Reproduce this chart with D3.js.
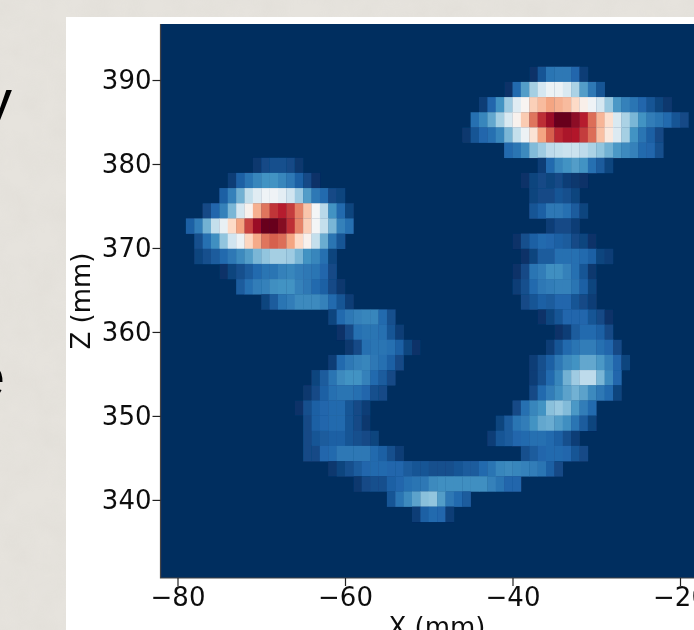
<!DOCTYPE html>
<html>
<head>
<meta charset="utf-8">
<script src="https://cdn.jsdelivr.net/npm/d3@7"></script>
<style>
  html, body { margin: 0; padding: 0; background: #e5e2dc; overflow: hidden; }
  svg { display: block; font-family: "DejaVu Sans", sans-serif; }
</style>
</head>
<body>
<script>
// x ticks, z ticks and axis names
const xTicks = [-80, -60, -40, -20];
const zTicks = [340, 350, 360, 370, 380, 390];
const xLabel = "X (mm)";
const zLabel = "Z (mm)";

// colour stops of the map, value 0 to 1
const colorStops = ["#042d5f", "#2166ac", "#4393c3", "#92c5de", "#d1e5f0", "#f7f7f7",
  "#fddbc7", "#f4a582", "#d6604d", "#b2182b", "#67001f"];

// grid of the map: 1 mm columns, 1.806 mm rows, z of the first row's top edge
const xFirst = -82;
const colStep = 1;
const zFirst = 391.58;
const rowStep = 1.806;

// each row is a list of runs: [x at left edge of first cell, values 0..1]
const row00 = [[-38, [.01, .07, .13, .14, .14, .10, .03]]];
const row01 = [[-41, [.01, .11, .22, .33, .41, .47, .47, .42, .34, .22, .14, .07]]];
const row02 = [[-44, [.03, .10, .20, .32, .44, .51, .62, .66, .70, .68, .66, .60, .53, .48, .41, .31, .21, .16, .13, .10, .07, .04, .02]]];
const row03 = [[-45, [.12, .17, .24, .33, .42, .52, .63, .77, .87, .93, 1, 1, .95, .89, .78, .67, .58, .42, .34, .27, .20, .15, .13, .11, .07, .05]]];
const row04 = [[-46, [.02, .07, .10, .12, .17, .27, .38, .47, .57, .70, .80, .88, .91, .90, .85, .78, .65, .55, .43, .33, .20, .13, .09, .05]]];
const row05 = [[-41, [.11, .13, .18, .28, .32, .37, .38, .39, .39, .37, .34, .30, .26, .21, .18, .16, .11, .10, .06]]];
const row06 = [[-71, [.02, .05, .06, .06, .05, .02]], [-37, [.03, .11, .17, .20, .22, .20, .12, .08, .04]]];
const row07 = [[-74, [.03, .09, .13, .17, .20, .20, .17, .14, .09, .05, .01]], [-39, [.01, .04, .05, .04, .05, .03, .02, .01]]];
const row08 = [[-75, [.09, .16, .26, .38, .44, .48, .48, .45, .40, .32, .22, .14, .11, .05, .04]], [-38, [.04, .05, .05, .07, .06, .04]]];
const row09 = [[-77, [.05, .10, .16, .27, .41, .52, .68, .77, .86, .89, .85, .75, .64, .49, .36, .20, .11, .04]], [-38, [.07, .09, .14, .14, .12, .08, .04]]];
const row10 = [[-79, [.09, .15, .26, .38, .46, .60, .70, .84, .93, 1, 1, .96, .87, .75, .62, .49, .38, .27, .16, .12]], [-36, [.03, .05, .05, .03]]];
const row11 = [[-78, [.06, .12, .19, .30, .40, .47, .61, .69, .77, .80, .78, .70, .60, .52, .38, .25, .13, .07]], [-40, [.01, .06, .09, .11, .10, .09, .08, .05, .04, .01]]];
const row12 = [[-78, [.04, .06, .08, .11, .14, .18, .22, .27, .30, .33, .33, .32, .27, .20, .17, .12, .04]], [-39, [.01, .04, .08, .08, .12, .12, .12, .11, .09, .04, .03]]];
const row13 = [[-75, [.01, .04, .06, .08, .11, .13, .13, .16, .17, .15, .14, .13, .10, .05]], [-40, [.01, .05, .13, .15, .19, .19, .16, .12, .07, .02]]];
const row14 = [[-73, [.08, .12, .15, .16, .19, .20, .20, .16, .14, .11, .09, .05, .02]], [-40, [.03, .06, .11, .14, .15, .16, .16, .13, .09, .04]]];
const row15 = [[-70, [.04, .08, .13, .15, .18, .18, .18, .16, .11, .07, .03]], [-39, [.05, .07, .09, .08, .10, .10, .07, .05, .03]]];
const row16 = [[-62, [.04, .11, .14, .16, .17, .17, .11, .06]], [-37, [.01, .04, .07, .10, .10, .10, .07, .05, .01]]];
const row17 = [[-61, [.01, .05, .12, .13, .13, .12, .07, .03]], [-35, [.01, .03, .08, .11, .11, .09, .05]]];
const row18 = [[-60, [.02, .05, .12, .13, .13, .12, .09, .04, .01]], [-36, [.03, .07, .11, .13, .15, .15, .12, .10, .05]]];
const row19 = [[-62, [.03, .11, .14, .16, .17, .14, .12, .09, .05]], [-38, [.03, .06, .09, .14, .18, .20, .24, .24, .21, .16, .10, .04]]];
const row20 = [[-64, [.04, .08, .13, .18, .20, .20, .16, .11, .08, .05]], [-38, [.03, .06, .11, .17, .26, .32, .37, .37, .27, .18, .10]]];
const row21 = [[-65, [.02, .05, .09, .12, .13, .13, .12, .10, .06, .05]], [-38, [.05, .11, .15, .19, .23, .26, .23, .18, .14, .11, .04]]];
const row22 = [[-66, [.01, .06, .09, .10, .11, .11, .07, .05, .03]], [-40, [.05, .12, .17, .20, .29, .31, .28, .21, .15, .11]]];
const row23 = [[-65, [.05, .09, .10, .11, .11, .07, .05, .02]], [-42, [.04, .08, .13, .15, .20, .24, .25, .22, .19, .13, .08, .04]]];
const row24 = [[-65, [.05, .07, .08, .09, .09, .07, .06, .05, .04]], [-43, [.03, .07, .08, .10, .11, .12, .12, .11, .09, .06, .03]]];
const row25 = [[-65, [.05, .05, .10, .11, .14, .14, .14, .14, .11, .09, .06, .03]], [-39, [.06, .08, .10, .11, .11, .10, .07, .05]]];
const row26 = [[-62, [.02, .04, .06, .08, .10, .11, .11, .10, .10, .08, .07, .07, .06, .06, .06, .07, .08, .08, .11, .13, .17, .18, .17, .16, .15, .13, .09, .05]]];
const row27 = [[-59, [.02, .05, .06, .06, .09, .10, .12, .13, .14, .18, .19, .19, .19, .19, .19, .19, .16, .13, .10, .10]]];
const row28 = [[-55, [.07, .13, .18, .23, .29, .30, .22, .14, .11, .08]]];
const row29 = [[-52, [.03, .09, .11, .10, .03]]];

const rows = [row00, row01, row02, row03, row04, row05, row06, row07, row08, row09,
  row10, row11, row12, row13, row14, row15, row16, row17, row18, row19,
  row20, row21, row22, row23, row24, row25, row26, row27, row28, row29];

const width = 694;
const height = 630;
const plotLeft = 160.5;
const plotRight = 694;
const plotTop = 24;
const plotBottom = 578;

const x = d3.scaleLinear()
  .domain([-82.03, -82.03 + (plotRight - plotLeft) / 8.375])
  .range([plotLeft, plotRight]);

const y = d3.scaleLinear()
  .domain([330.7, 396.67])
  .range([plotBottom, plotTop]);

const color = d3.scaleLinear()
  .domain(d3.range(colorStops.length).map(i => i / (colorStops.length - 1)))
  .range(colorStops);

const svg = d3.select("body").append("svg")
  .attr("width", width)
  .attr("height", height)
  .attr("viewBox", [0, 0, width, height]);

// slide texture behind the figure
const defs = svg.append("defs");
const paper = defs.append("filter").attr("id", "paper")
  .attr("x", 0).attr("y", 0).attr("width", "100%").attr("height", "100%");
paper.append("feTurbulence").attr("type", "fractalNoise")
  .attr("baseFrequency", 0.035).attr("numOctaves", 3).attr("seed", 4);
paper.append("feColorMatrix").attr("type", "matrix")
  .attr("values", "0 0 0 0 0.5  0 0 0 0 0.48  0 0 0 0 0.44  0.35 0 0 0 -0.1");
defs.append("filter").attr("id", "soft")
  .append("feGaussianBlur").attr("stdDeviation", 0.55);
defs.append("filter").attr("id", "softer")
  .append("feGaussianBlur").attr("stdDeviation", 0.5);

svg.append("rect").attr("width", width).attr("height", height).attr("fill", "#e6e3dd");
svg.append("rect").attr("width", width).attr("height", height).attr("filter", "url(#paper)").attr("opacity", 0.35);

// bits of slide text cut off by the window edge
const slideText = svg.append("g")
  .attr("font-family", "'Liberation Sans', sans-serif")
  .attr("font-size", 60)
  .attr("fill", "#000");
slideText.append("text").attr("x", 12).attr("y", 121).attr("text-anchor", "end").text("y");
slideText.append("text").attr("x", 5).attr("y", 397).attr("text-anchor", "end").text("e");

const fig = svg.append("g").attr("filter", "url(#soft)");

fig.append("rect")
  .attr("x", 66).attr("y", 17)
  .attr("width", width - 66 + 4).attr("height", height - 17 + 4)
  .attr("fill", "#fff");

fig.append("rect")
  .attr("x", plotLeft).attr("y", plotTop)
  .attr("width", plotRight - plotLeft + 4).attr("height", plotBottom - plotTop)
  .attr("fill", color(0));

const cells = rows.flatMap((runs, r) => runs.flatMap(([x0, vals]) =>
  vals.map((v, i) => ({x: x0 + i * colStep, z: zFirst - r * rowStep, v}))));

fig.append("g")
  .attr("filter", "url(#softer)")
  .selectAll("rect")
  .data(cells)
  .join("rect")
  .attr("x", d => x(d.x))
  .attr("y", d => y(d.z))
  .attr("width", d => x(d.x + colStep) - x(d.x) + 0.3)
  .attr("height", d => y(d.z - rowStep) - y(d.z) + 0.3)
  .attr("fill", d => color(d.v));

// left and bottom spines only, the right side runs off the window
fig.append("path")
  .attr("d", d3.line()([[plotLeft, plotTop], [plotLeft, plotBottom], [plotRight + 4, plotBottom]]))
  .attr("fill", "none")
  .attr("stroke", "#444")
  .attr("stroke-width", 1.2);

const xAxis = fig.append("g")
  .attr("transform", `translate(0,${plotBottom})`)
  .call(d3.axisBottom(x).tickValues(xTicks).tickSize(8).tickPadding(2).tickFormat(d3.format("d")));

const zAxis = fig.append("g")
  .attr("transform", `translate(${plotLeft},0)`)
  .call(d3.axisLeft(y).tickValues(zTicks).tickSize(8).tickPadding(1).tickFormat(d3.format("d")));

[xAxis, zAxis].forEach(a => {
  a.select(".domain").remove();
  a.selectAll("line").attr("stroke", "#222").attr("stroke-width", 1.2);
  a.selectAll("text")
    .attr("font-family", "'DejaVu Sans', sans-serif")
    .attr("font-size", 26)
    .attr("fill", "#111");
});

fig.append("text")
  .attr("x", 437).attr("y", 636)
  .attr("text-anchor", "middle")
  .attr("font-size", 26)
  .attr("fill", "#111")
  .text(xLabel);

fig.append("text")
  .attr("transform", "translate(90,301) rotate(-90)")
  .attr("text-anchor", "middle")
  .attr("font-size", 26)
  .attr("fill", "#111")
  .text(zLabel);
</script>
</body>
</html>
